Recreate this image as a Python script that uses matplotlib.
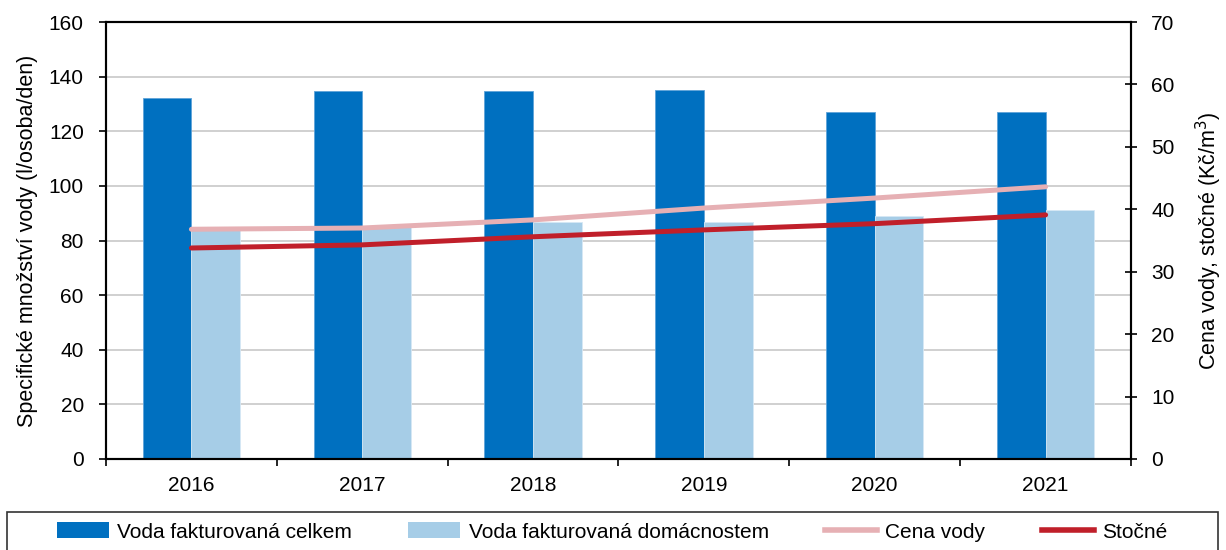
import matplotlib
matplotlib.use("Agg")
import matplotlib.pyplot as plt
from matplotlib.patches import Rectangle
from matplotlib.lines import Line2D
from matplotlib.patches import Patch
import numpy as np

years = ["2016", "2017", "2018", "2019", "2020", "2021"]
celkem = [132.2, 134.8, 134.8, 135.2, 127.1, 127.1]
domacnosti = [84.0, 85.2, 86.8, 86.7, 89.1, 91.3]
cena_vody = [36.8, 37.0, 38.3, 40.2, 41.8, 43.6]
stocne = [33.8, 34.3, 35.6, 36.7, 37.7, 39.1]

plt.rcParams['font.family'] = ['Liberation Sans', 'DejaVu Sans']
plt.rcParams['font.size'] = 15

c_dark = '#0070C0'
c_light = '#A6CDE7'
c_pink = '#E6B0B4'
c_red = '#C01F2A'

fig = plt.figure(figsize=(12.26, 5.5), dpi=100)
ax = fig.add_axes([106/1226, 91/550, (1131-106)/1226, (459-22)/550])

x = np.arange(len(years))
w = 0.285
ax.bar(x - w/2, celkem, width=w, color=c_dark, edgecolor='#5fa3d9', linewidth=0.6, zorder=2)
ax.bar(x + w/2, domacnosti, width=w, color=c_light, edgecolor='#d6e8f5', linewidth=0.6, zorder=2)

ax.set_xlim(-0.5, len(years) - 0.5)
ax.set_ylim(0, 160)
ax.set_yticks(np.arange(0, 161, 20))
ax.yaxis.grid(True, color='#c8c8c8', linewidth=1.2, zorder=0)
ax.set_axisbelow(True)
ax.set_xticks(x)
ax.set_xticklabels(years)
ax.set_xticks(np.arange(-0.5, len(years), 1.0), minor=True)
ax.tick_params(axis='x', which='major', length=0, pad=12)
ax.tick_params(axis='x', which='minor', length=5, width=1.2, direction='out')
ax.tick_params(axis='y', length=5, width=1.2, direction='out', pad=11)
for s in ax.spines.values():
    s.set_linewidth(1.5)
    s.set_color('black')
ax.set_ylabel('Specifické množství vody (l/osoba/den)', labelpad=8, fontsize=15.5)

ax2 = ax.twinx()
ax2.plot(x, cena_vody, color=c_pink, linewidth=3.6, solid_capstyle='round', zorder=3)
ax2.plot(x, stocne, color=c_red, linewidth=3.6, solid_capstyle='round', zorder=4)
ax2.set_ylim(0, 70)
ax2.set_yticks(np.arange(0, 71, 10))
ax2.tick_params(axis='y', length=9, width=1.2, direction='inout', pad=10)
for s in ax2.spines.values():
    s.set_linewidth(1.5)
    s.set_color('black')
ax2.set_ylabel('Cena vody, stočné (Kč/m$^3$)', labelpad=14, fontsize=15.5)

# legend frame
fig.patches.append(Rectangle((7/1226, -0.02), (1218-7)/1226, (550-512)/550 + 0.02,
                             transform=fig.transFigure, fill=False,
                             edgecolor='#333333', linewidth=1.2))
handles = [Patch(facecolor=c_dark), Patch(facecolor=c_light),
           Line2D([], [], color=c_pink, linewidth=4),
           Line2D([], [], color=c_red, linewidth=4)]
labels = ['Voda fakturovaná celkem', 'Voda fakturovaná domácnostem', 'Cena vody', 'Stočné']
fig.legend(handles, labels, loc='center', bbox_to_anchor=(612/1226, (550-532)/550),
           ncol=4, frameon=False, handlelength=2.5, handleheight=0.8,
           handletextpad=0.4, columnspacing=2.7, fontsize=15)

fig.savefig('out.png', dpi=100)
